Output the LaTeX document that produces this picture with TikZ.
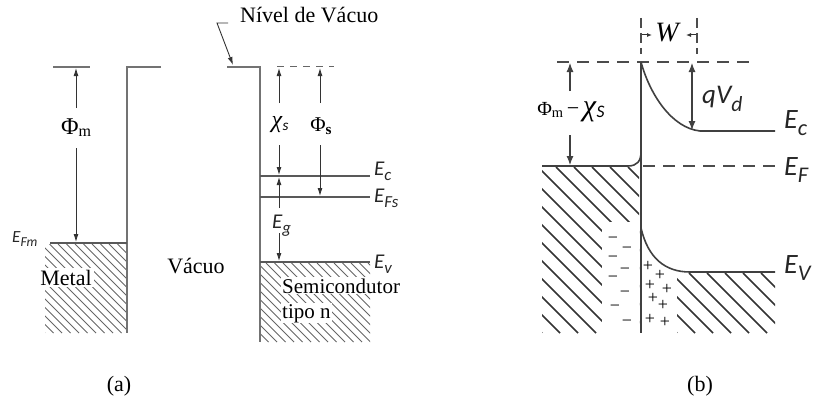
\documentclass[tikz,border=0pt]{standalone}
\usepackage{fontspec}
\usepackage{graphicx}
\setmainfont{Liberation Serif}
\newfontfamily\carl{Carlito}
\usetikzlibrary{arrows.meta}
\newcommand\sbs[2][0.28em]{\raisebox{-#1}{\scalebox{0.8}{#2}}}
\newcommand\fs[1]{\fontsize{#1}{#1}\selectfont}
\newcommand\hatchbox[6]{%
  \begin{scope}
    \clip (#1,#2) rectangle (#3,#4);
    \pgfmathsetmacro\hH{#4-#2}
    \foreach \i [evaluate=\i as \k using #1-\hH+\i*#5] in {0,...,40}
      \draw[#6] (\k,#2) -- ++(\hH,\hH);
  \end{scope}}
\begin{document}
\begin{tikzpicture}[x=1pt,y=-1pt,
  lin/.style={line width=1.8pt, draw=black!55},
  lvl/.style={line width=1.3pt, draw=black!65},
  arr/.style={line width=0.9pt, draw=black!80, -{Latex[length=8pt,width=5pt]}},
  barr/.style={line width=1.1pt, draw=black!75, -{Latex[length=9pt,width=7pt]}},
  hatchA/.style={line width=0.9pt, draw=black!60},
  hatchB/.style={line width=1.6pt, draw=black!80},
  blin/.style={line width=1.6pt, draw=black!75},
  bdash/.style={line width=1.4pt, draw=black!70, dash pattern=on 12pt off 8pt},
  rm/.style={font=\fs{22}, inner sep=0pt},
  elab/.style={font=\carl\itshape\fs{21}, inner sep=0pt, text=black!85},
  eblab/.style={font=\carl\itshape\fs{28}, inner sep=0pt, text=black!85}]
\useasboundingbox (0,0) rectangle (816,412);

% ================= (a) =================
% hatching
\hatchbox{45}{244}{127}{333}{8.5}{hatchA}
\hatchbox{260}{263}{370}{342}{8.5}{hatchA}
% metal
\draw[lin] (53,67) -- (90,67);
\draw[lin] (161,67) -- (127,67) -- (127,333);
\draw[lvl] (50,243) -- (127,243);
% semiconductor
\draw[lin] (227,67) -- (260,67) -- (260,342);
\draw[line width=1pt, draw=black!60, dash pattern=on 7pt off 6pt] (277,67) -- (334,67);
\draw[lvl] (260,176) -- (370,176);
\draw[lvl] (260,197) -- (370,197);
\draw[lvl] (260,262) -- (370,262);

% labels
\node[rm, anchor=base west] (nv) at (240,23) {Nível de Vácuo};
\coordinate (nvk) at (228,23);
\coordinate (nvb) at (233,65);
\draw[arr] (nvk) -- (217,23) -- (nvb);

\node[rm, fill=white, inner sep=2pt, anchor=base] (metal) at (66,285) {Metal};
\node[rm, anchor=base] (vac) at (196,273) {Vácuo};
\node[rm, fill=white, inner sep=1pt, anchor=base west, font=\fs{21}] (semi) at (281,293) {Semicondutor};
\node[rm, fill=white, inner sep=1pt, anchor=base west, font=\fs{21}] (tipo) at (281,318) {tipo n};

\node[elab, anchor=base west, font=\carl\itshape\fs{17}] (efm) at (12,242) {E\sbs{Fm}};
\node[elab, anchor=base west] (ec) at (374,175) {E\sbs{c}};
\node[elab, anchor=base west] (efs) at (374,202) {E\sbs{Fs}};
\node[elab, anchor=base west] (ev) at (374,268) {E\sbs{v}};

% Phi_m
\node[inner sep=0pt] (phim) at (76,128) {{\fs{24}Φ}\sbs[0.22em]{\fs{20}m}};
\draw[arr] (76,108) -- (76,68);
\draw[arr] (76,148) -- (76,242);
% chi_s
\node[inner sep=0pt] (chis) at (280,125) {{\fs{24}\textit{χ}}\sbs{\carl\itshape\fs{19}s}};
\draw[arr] (279,103) -- (279,68);
\draw[arr] (279,145) -- (279,175);
% Phi_s
\node[inner sep=0pt] (phis) at (321,126) {{\fs{21}Φ}\sbs[0.25em]{\fs{19}\bfseries s}};
\draw[arr] (320,103) -- (320,68);
\draw[arr] (320,145) -- (320,196);
% Eg
\node[elab, anchor=base west] (eg) at (272,228) {E\sbs{g}};
\draw[arr] (279,208) -- (279,177);
\draw[arr] (279,233) -- (279,261);

\node[rm] (la) at (119,386) {(a)};

% ================= (b) =================
\hatchbox{542}{167}{639}{333}{18}{hatchB}
\fill[white] (602,222) rectangle (639,334);
\hatchbox{677}{273}{775}{333}{18}{hatchB}

% vacuum level dashed
\draw[bdash] (557,62) -- (752,62);
% W marks
\draw[line width=1.2pt, draw=black!70, dash pattern=on 10pt off 5pt] (641,18) -- (641,54);
\draw[line width=1.2pt, draw=black!70, dash pattern=on 10pt off 5pt] (697,18) -- (697,54);
\node[inner sep=0pt, font=\fs{28}\itshape] (w) at (667,33) {W};
\draw[line width=1pt, draw=black!80, -{Latex[length=5pt,width=4pt]}] (642,35) -- (652,35);
\draw[line width=1pt, draw=black!80, -{Latex[length=5pt,width=4pt]}] (696,35) -- (686,35);

% interface
\draw[blin] (641,62) -- (641,333);
% Ec band
\draw[blin] (641,62) .. controls (650,95) and (672,128) .. (700,131) -- (775,131);
% Ev band
\draw[blin] (641,228) .. controls (648,258) and (665,272) .. (690,272) -- (775,272);
% metal Fermi level
\draw[blin] (542,166) -- (628,166) .. controls (637,166) and (641,161) .. (641,152);
\draw[bdash] (643,166) -- (779,166);

% qVd
\draw[barr, {Latex[length=9pt,width=7pt]}-{Latex[length=9pt,width=7pt]}] (692,63) -- (692,130);
\node[inner sep=0pt, anchor=west, font=\carl\itshape\fs{27}, text=black!85] (qvd) at (702,99) {qV\sbs{d}};

% Phi_m - chi_S
\node[inner sep=0pt] (pmx) at (571,112) {{\fs{20}Φ}\sbs[0.2em]{\fs{18}m}{\fs{22}\,−\,}{\fs{30}\textit{χ}}\sbs[0.15em]{\carl\itshape\fs{22}S}};
\draw[barr] (570,91) -- (570,63);
\draw[barr] (570,135) -- (570,165);

\node[eblab, anchor=base west] (ecb) at (784,128) {E\sbs{c}};
\node[eblab, anchor=base west] (efb) at (784,175) {E\sbs{F}};
\node[eblab, anchor=base west] (evb) at (784,273) {E\sbs{V}};

% charges
\foreach \x/\y [count=\n] in {613/240,627/250,613/259,625/271,613/279,625/294,615/308,627/323}
  \node[inner sep=0pt, font=\fs{18}] (m\n) at (\x,\y) {−};
\foreach \x/\y [count=\n] in {648/266,660/275,650/285,667/289,653/298,663/305,650/319,665/322}
  \node[inner sep=0pt, font=\fs{18}] (p\n) at (\x,\y) {+};

\node[rm] (lb) at (700,386) {(b)};
\end{tikzpicture}
\end{document}
